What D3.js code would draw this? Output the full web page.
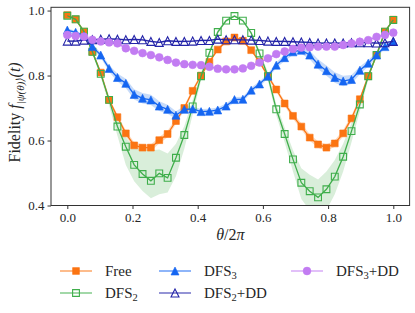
<!DOCTYPE html>
<html>
<head>
<meta charset="utf-8">
<script src="https://cdn.jsdelivr.net/npm/d3@7"></script>
<style>
body { margin: 0; background: #fff; }
svg text { font-family: "Liberation Serif", "DejaVu Serif", serif; fill: #262626; }
</style>
</head>
<body>
<div id="chart"></div>
<script>
// theta / 2pi sample grid (40 points)
const theta = [0, 0.0256, 0.0513, 0.0769, 0.1026, 0.1282, 0.1538, 0.1795, 0.2051, 0.2308,
	0.2564, 0.2821, 0.3077, 0.3333, 0.3590, 0.3846, 0.4103, 0.4359, 0.4615, 0.4872,
	0.5128, 0.5385, 0.5641, 0.5897, 0.6154, 0.6410, 0.6667, 0.6923, 0.7179, 0.7436,
	0.7692, 0.7949, 0.8205, 0.8462, 0.8718, 0.8974, 0.9231, 0.9487, 0.9744, 1.0]

const freeVals = [0.986, 0.973, 0.935, 0.873, 0.809, 0.725, 0.672, 0.622, 0.585, 0.578,
	0.578, 0.601, 0.620, 0.660, 0.700, 0.753, 0.800, 0.842, 0.880, 0.905,
	0.917, 0.907, 0.878, 0.842, 0.798, 0.757, 0.714, 0.676, 0.643, 0.609,
	0.588, 0.578, 0.591, 0.622, 0.668, 0.727, 0.798, 0.863, 0.935, 0.972]
const freeErr = [0.003, 0.003, 0.004, 0.005, 0.006, 0.007, 0.008, 0.009, 0.010, 0.010,
	0.010, 0.010, 0.010, 0.009, 0.008, 0.007, 0.006, 0.005, 0.004, 0.004,
	0.004, 0.004, 0.004, 0.005, 0.006, 0.007, 0.008, 0.009, 0.010, 0.010,
	0.010, 0.010, 0.010, 0.010, 0.009, 0.008, 0.007, 0.006, 0.004, 0.003]

const dfs2Vals = [0.984, 0.973, 0.935, 0.873, 0.805, 0.725, 0.643, 0.581, 0.525, 0.497,
	0.476, 0.499, 0.485, 0.547, 0.617, 0.705, 0.798, 0.870, 0.934, 0.969,
	0.983, 0.969, 0.931, 0.868, 0.798, 0.696, 0.620, 0.542, 0.470, 0.444,
	0.425, 0.450, 0.489, 0.550, 0.629, 0.711, 0.798, 0.863, 0.935, 0.971]
const dfs2Lo = [0.982, 0.970, 0.930, 0.866, 0.795, 0.708, 0.615, 0.525, 0.475, 0.445,
	0.422, 0.435, 0.440, 0.490, 0.575, 0.680, 0.785, 0.862, 0.928, 0.965,
	0.980, 0.965, 0.925, 0.860, 0.785, 0.678, 0.595, 0.505, 0.420, 0.385,
	0.370, 0.385, 0.435, 0.505, 0.595, 0.690, 0.788, 0.857, 0.931, 0.969]
const dfs2Hi = [0.987, 0.976, 0.940, 0.880, 0.815, 0.738, 0.665, 0.610, 0.578, 0.572,
	0.570, 0.572, 0.560, 0.590, 0.645, 0.725, 0.810, 0.878, 0.940, 0.973,
	0.986, 0.973, 0.937, 0.876, 0.810, 0.712, 0.640, 0.570, 0.515, 0.495,
	0.480, 0.505, 0.540, 0.590, 0.655, 0.728, 0.808, 0.869, 0.939, 0.973]

const dfs3Vals = [0.940, 0.933, 0.922, 0.889, 0.863, 0.822, 0.794, 0.776, 0.742, 0.730,
	0.725, 0.706, 0.696, 0.678, 0.696, 0.697, 0.689, 0.690, 0.694, 0.706,
	0.726, 0.727, 0.755, 0.774, 0.798, 0.832, 0.855, 0.873, 0.878, 0.863,
	0.835, 0.815, 0.794, 0.783, 0.788, 0.816, 0.838, 0.863, 0.889, 0.905]
const dfs3Err = [0.005, 0.005, 0.006, 0.007, 0.008, 0.010, 0.012, 0.014, 0.016, 0.016,
	0.016, 0.015, 0.014, 0.012, 0.010, 0.008, 0.008, 0.008, 0.008, 0.008,
	0.008, 0.008, 0.008, 0.008, 0.008, 0.009, 0.010, 0.010, 0.011, 0.013,
	0.015, 0.016, 0.016, 0.016, 0.014, 0.012, 0.010, 0.008, 0.006, 0.005]

const dfs2ddVals = [0.906, 0.906, 0.909, 0.910, 0.912, 0.913, 0.912, 0.910, 0.911, 0.910,
	0.905, 0.902, 0.907, 0.905, 0.905, 0.906, 0.908, 0.908, 0.912, 0.910,
	0.910, 0.910, 0.909, 0.908, 0.906, 0.905, 0.905, 0.904, 0.903, 0.902,
	0.900, 0.900, 0.900, 0.900, 0.901, 0.901, 0.901, 0.900, 0.901, 0.905]
const dfs2ddErr = theta.map(() => 0.003)

const dfs3ddVals = [0.925, 0.922, 0.920, 0.910, 0.905, 0.902, 0.899, 0.884, 0.876, 0.869,
	0.863, 0.856, 0.848, 0.840, 0.835, 0.833, 0.832, 0.827, 0.821, 0.819,
	0.819, 0.822, 0.830, 0.840, 0.853, 0.866, 0.874, 0.882, 0.886, 0.887,
	0.889, 0.889, 0.889, 0.894, 0.899, 0.904, 0.909, 0.919, 0.925, 0.932]
const dfs3ddErr = theta.map(() => 0.004)

const xTicks = [0, 0.2, 0.4, 0.6, 0.8, 1.0]
const yTicks = [0.4, 0.6, 0.8, 1.0]

// series table (drawing order = legend order)
const series = [
	{ label: ['Free'], vals: freeVals, lo: freeVals.map((v, i) => v - freeErr[i]), hi: freeVals.map((v, i) => v + freeErr[i]),
		color: '#fb7412', band: '#fdd0ad', marker: 'square', filled: true },
	{ label: ['DFS', '2'], vals: dfs2Vals, lo: dfs2Lo, hi: dfs2Hi,
		color: '#3fae4b', band: '#cfead1', marker: 'square', filled: false },
	{ label: ['DFS', '3'], vals: dfs3Vals, lo: dfs3Vals.map((v, i) => v - dfs3Err[i]), hi: dfs3Vals.map((v, i) => v + dfs3Err[i]),
		color: '#1566f2', band: '#b9d2f8', marker: 'triangle', filled: true },
	{ label: ['DFS', '2', '+DD'], vals: dfs2ddVals, lo: dfs2ddVals.map((v, i) => v - dfs2ddErr[i]), hi: dfs2ddVals.map((v, i) => v + dfs2ddErr[i]),
		color: '#2323a8', band: '#c3c3e6', marker: 'triangle', filled: false },
	{ label: ['DFS', '3', '+DD'], vals: dfs3ddVals, lo: dfs3ddVals.map((v, i) => v - dfs3ddErr[i]), hi: dfs3ddVals.map((v, i) => v + dfs3ddErr[i]),
		color: '#c27cf2', band: '#ecd8fb', marker: 'circle', filled: true }
]

const W = 415
const H = 313
const plot = { left: 51, right: 409.6, top: 7.3, bottom: 205.5 }

const x = d3.scaleLinear().domain([-0.05, 1.05]).range([plot.left, plot.right])
const y = d3.scaleLinear().domain([0.4, 1.01]).range([plot.bottom, plot.top])

const svg = d3.select('#chart').append('svg')
	.attr('width', W)
	.attr('height', H)

svg.append('defs').append('clipPath').attr('id', 'clip')
	.append('rect')
	.attr('x', plot.left).attr('y', plot.top)
	.attr('width', plot.right - plot.left).attr('height', plot.bottom - plot.top)

function markerPath(type, s) {
	if (type === 'square') return `M${-s},${-s}H${s}V${s}H${-s}Z`
	if (type === 'triangle') return `M0,${-s}L${s},${s}L${-s},${s}Z`
	return d3.symbol(d3.symbolCircle, Math.PI * s * s)()
}
const markerSize = { square: 3.4, triangle: 4, circle: 3.9 }

function drawMarker(g, d, type, filled, color) {
	g.append('path')
		.attr('d', markerPath(type, markerSize[type]))
		.attr('fill', filled ? color : 'none')
		.attr('stroke', color)
		.attr('stroke-width', filled ? 0.6 : 1.1)
}

const chart = svg.append('g').attr('clip-path', 'url(#clip)')

const area = d3.area()
	.x((d, i) => x(theta[i]))
	.y0(d => y(d[0]))
	.y1(d => y(d[1]))

const line = d3.line()
	.x((d, i) => x(theta[i]))
	.y(d => y(d))

// bands first
series.forEach(s => {
	chart.append('path')
		.attr('d', area(s.lo.map((v, i) => [v, s.hi[i]])))
		.attr('fill', s.band)
		.attr('fill-opacity', 0.8)
})

series.forEach(s => {
	const g = chart.append('g')
	g.append('path')
		.attr('d', line(s.vals))
		.attr('fill', 'none')
		.attr('stroke', s.color)
		.attr('stroke-width', 1.3)

	g.selectAll('.pt').data(s.vals).enter()
		.append('g')
		.attr('class', 'pt')
		.attr('transform', (d, i) => `translate(${x(theta[i])},${y(d)})`)
		.each(function (d) { drawMarker(d3.select(this), d, s.marker, s.filled, s.color) })
})

// spines
svg.append('rect')
	.attr('x', plot.left).attr('y', plot.top)
	.attr('width', plot.right - plot.left).attr('height', plot.bottom - plot.top)
	.attr('fill', 'none')
	.attr('stroke', '#333')
	.attr('stroke-width', 1)

const xAxis = svg.append('g')
	.attr('transform', `translate(0,${plot.bottom})`)
	.call(d3.axisBottom(x).tickValues(xTicks).tickFormat(d3.format('.1f')).tickSize(3.5).tickPadding(3.5))
xAxis.select('.domain').remove()
xAxis.selectAll('line').attr('stroke', '#333')
xAxis.selectAll('text').attr('font-size', 13).attr('font-family', null)

const yAxis = svg.append('g')
	.attr('transform', `translate(${plot.left},0)`)
	.call(d3.axisLeft(y).tickValues(yTicks).tickFormat(d3.format('.1f')).tickSize(3.5).tickPadding(3))
yAxis.select('.domain').remove()
yAxis.selectAll('line').attr('stroke', '#333')
yAxis.selectAll('text').attr('font-size', 13).attr('font-family', null)

// axis labels
svg.append('text')
	.attr('x', (plot.left + plot.right) / 2 + 0)
	.attr('y', 240)
	.attr('text-anchor', 'middle')
	.attr('font-size', 16)
	.html('<tspan font-style="italic">θ</tspan>/2<tspan font-style="italic">π</tspan>')

svg.append('text')
	.attr('transform', `translate(20,${(plot.top + plot.bottom) / 2 + 6}) rotate(-90)`)
	.attr('text-anchor', 'middle')
	.attr('font-size', 16)
	.html('Fidelity <tspan font-style="italic">f</tspan><tspan font-size="11" dy="4" font-style="italic">|ψ(θ)⟩</tspan><tspan dy="-4" font-style="italic">(t)</tspan>')

// legend (3 columns, filled column-first)
const legendCols = [60, 159, 291]
const legendRows = [271, 293]
const lineLen = 32
const textGap = 13

const legend = svg.append('g').attr('class', 'legend')
series.forEach((s, i) => {
	const col = Math.floor(i / 2)
	const row = i % 2
	const gx = legendCols[col]
	const gy = legendRows[row]
	const item = legend.append('g').attr('transform', `translate(${gx},${gy})`)
	item.append('line')
		.attr('x1', 0).attr('x2', lineLen)
		.attr('y1', 0).attr('y2', 0)
		.attr('stroke', s.color)
		.attr('stroke-opacity', 0.75)
		.attr('stroke-width', 1.3)
	const m = item.append('g').attr('transform', `translate(${lineLen / 2},0)`)
	drawMarker(m, null, s.marker, s.filled, s.color)

	const t = item.append('text')
		.attr('x', lineLen + textGap)
		.attr('y', 5)
		.attr('font-size', 15)
	t.append('tspan').text(s.label[0])
	if (s.label[1]) {
		t.append('tspan').attr('font-size', 10.5).attr('dy', 3).text(s.label[1])
	}
	if (s.label[2]) {
		t.append('tspan').attr('dy', -3).text(s.label[2])
	}
})
</script>
</body>
</html>
